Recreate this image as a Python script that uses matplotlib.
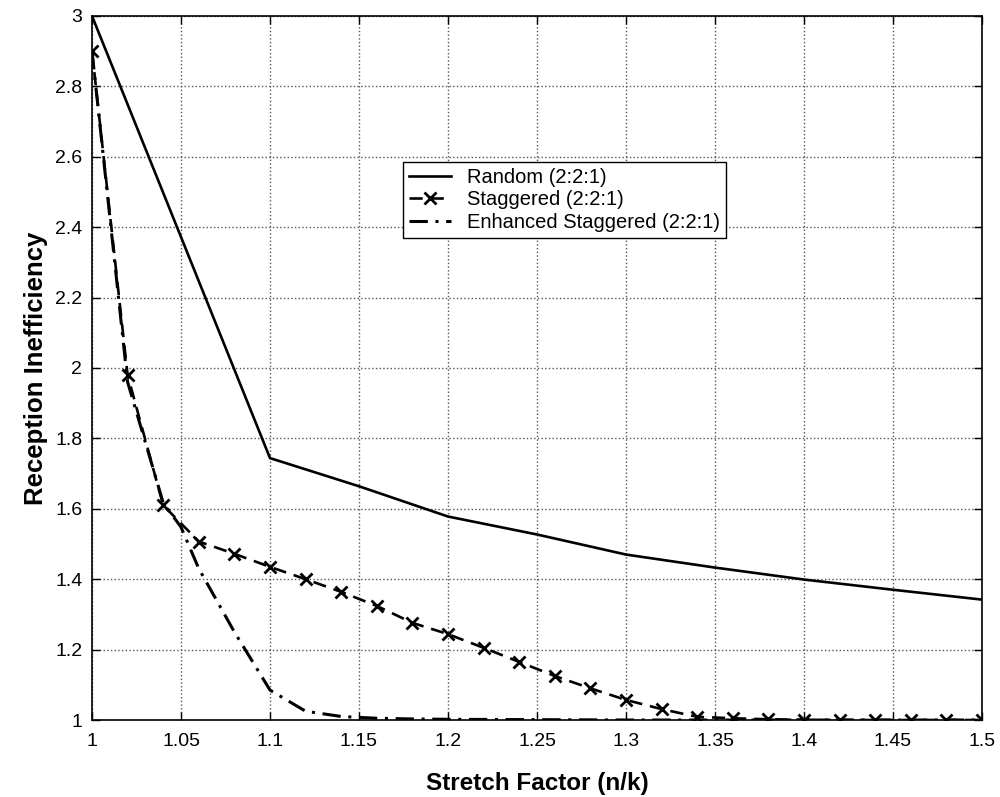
import matplotlib
matplotlib.use("Agg")
import matplotlib.pyplot as plt

plt.rcParams['font.family'] = ['Liberation Sans', 'DejaVu Sans']

# Random (2:2:1)
rand_x = [1.00, 1.10, 1.15, 1.20, 1.25, 1.30, 1.35, 1.40, 1.45, 1.50]
rand_y = [3.00, 1.744, 1.664, 1.578, 1.527, 1.470, 1.433, 1.399, 1.370, 1.342]

# Staggered (2:2:1)
stag_x = [1.00, 1.02, 1.04, 1.06, 1.08, 1.10, 1.12, 1.14, 1.16, 1.18, 1.20,
          1.22, 1.24, 1.26, 1.28, 1.30, 1.32, 1.34, 1.36, 1.38, 1.40, 1.42,
          1.44, 1.46, 1.48, 1.50]
stag_y = [2.90, 1.98, 1.61, 1.507, 1.472, 1.435, 1.40, 1.364, 1.324, 1.276, 1.244,
          1.205, 1.165, 1.125, 1.09, 1.057, 1.031, 1.009, 1.005, 1.002, 1.001, 1.0,
          1.0, 1.0, 1.0, 1.0]

# Enhanced Staggered (2:2:1)
enh_x = [1.00, 1.02, 1.04, 1.05, 1.06, 1.08, 1.10, 1.12, 1.14, 1.16, 1.18, 1.20,
         1.25, 1.30, 1.35, 1.40, 1.45, 1.50]
enh_y = [2.90, 1.96, 1.617, 1.548, 1.43, 1.25, 1.085, 1.025, 1.01, 1.005, 1.003, 1.002,
         1.001, 1.0, 1.0, 1.0, 1.0, 1.0]

xtick_vals = [1, 1.05, 1.1, 1.15, 1.2, 1.25, 1.3, 1.35, 1.4, 1.45, 1.5]
xtick_labels = ['1', '1.05', '1.1', '1.15', '1.2', '1.25', '1.3', '1.35', '1.4', '1.45', '1.5']
ytick_vals = [1, 1.2, 1.4, 1.6, 1.8, 2, 2.2, 2.4, 2.6, 2.8, 3]
ytick_labels = ['1', '1.2', '1.4', '1.6', '1.8', '2', '2.2', '2.4', '2.6', '2.8', '3']

fig = plt.figure(figsize=(10, 7.97), dpi=100)
ax = fig.add_axes([0.092, 0.0966, 0.890, 0.8834])

ax.plot(rand_x, rand_y, '-', color='black', lw=1.9, label='Random (2:2:1)')
ax.plot(stag_x, stag_y, '--', color='black', lw=1.9, marker='x', markersize=9,
        markeredgewidth=2, dashes=(5, 3), label='Staggered (2:2:1)')
ax.plot(enh_x, enh_y, '-.', color='black', lw=2.2, dashes=(6, 2.5, 1, 2.5),
        label='Enhanced Staggered (2:2:1)')

ax.set_xlim(1, 1.5)
ax.set_ylim(1, 3)
ax.set_xticks(xtick_vals)
ax.set_xticklabels(xtick_labels)
ax.set_yticks(ytick_vals)
ax.set_yticklabels(ytick_labels)
ax.tick_params(direction='in', top=True, right=True, length=6, width=1,
               labelsize=14)
ax.tick_params(axis='x', pad=9)
ax.tick_params(axis='y', pad=7)
ax.grid(True, linestyle=':', color='#555555', linewidth=1)
for s in ax.spines.values():
    s.set_linewidth(1.2)

ax.set_xlabel('Stretch Factor (n/k)', fontsize=17.5, fontweight='bold', labelpad=16)
ax.set_ylabel('Reception Inefficiency', fontsize=18.5, fontweight='bold', labelpad=5)

leg = ax.legend(loc='upper left', bbox_to_anchor=(0.349, 0.793), fontsize=14.5,
                frameon=True, fancybox=False, edgecolor='black', framealpha=1,
                borderpad=0.3, handlelength=2.1, handletextpad=0.8,
                labelspacing=0.17, borderaxespad=0, numpoints=1)
leg.get_frame().set_linewidth(1)

fig.savefig('out.png', dpi=100)
